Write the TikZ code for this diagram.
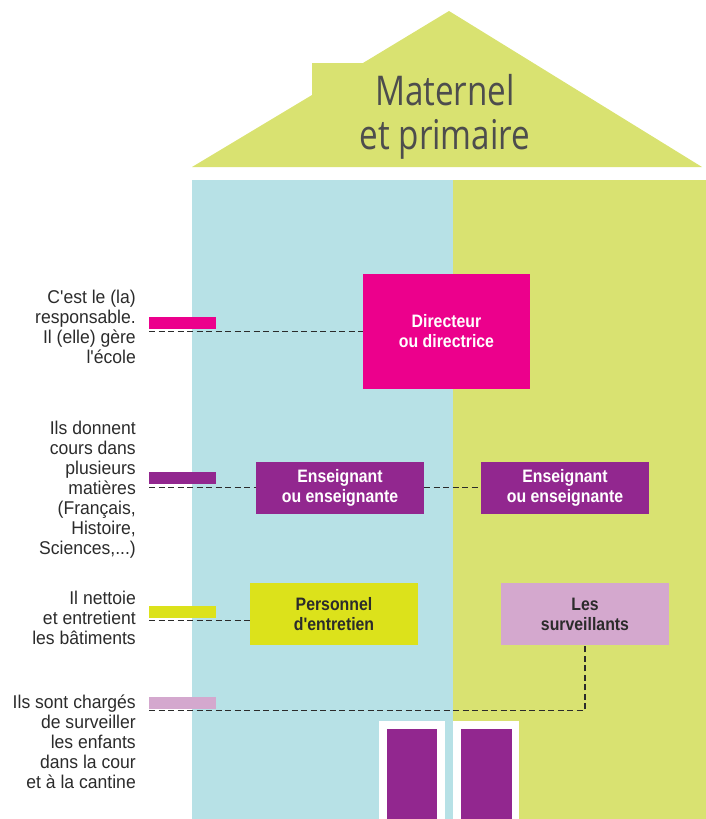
\documentclass[tikz,border=0pt]{standalone}
\usepackage{fontspec}
\setmainfont{Liberation Sans}
\newfontfamily\condfont[FakeStretch=0.95]{Liberation Sans}
\newfontfamily\boxfont[FakeStretch=0.88]{Liberation Sans}
\newfontfamily\titlefont[FakeStretch=0.81]{Open Sans}
\definecolor{wallblue}{HTML}{B7E1E6}
\definecolor{wallgreen}{HTML}{D9E271}
\definecolor{cpink}{HTML}{EC008C}
\definecolor{cpurple}{HTML}{92278F}
\definecolor{cyellow}{HTML}{DCE21B}
\definecolor{clav}{HTML}{D4A8CE}
\definecolor{ctext}{HTML}{2B2B2B}
\definecolor{ctitle}{HTML}{4D4D4D}
\begin{document}
\begin{tikzpicture}[x=1pt,y=-1pt,
  lbl/.style={anchor=east,align=right,inner sep=0pt,text=ctext,
    font=\condfont\fontsize{18.5}{20}\selectfont},
  rolebox/.style={draw=none,inner sep=0pt,align=center,
    font=\boxfont\bfseries\fontsize{18}{20}\selectfont},
  bar/.style={draw=none,inner sep=0pt,minimum width=67pt,minimum height=12pt,anchor=north west},
  conn/.style={draw=ctext,line width=1.6pt,dash pattern=on 6pt off 3.5pt}]
\useasboundingbox (0,0) rectangle (706,819);
% roof
\fill[wallgreen] (192,167) -- (312,95) -- (312,63) -- (363,63) -- (449,11) -- (702,167) -- cycle;
\node[text=ctitle,align=center,inner sep=0pt,font=\titlefont\fontsize{41}{44}\selectfont] (title) at (445,117) {Maternel\\et primaire};
% walls
\fill[wallblue] (192,180) rectangle (453,819);
\fill[wallgreen] (453,180) rectangle (706,819);
% doors
\fill[white] (379,721) rectangle (445,819);
\fill[cpurple] (387,729) rectangle (437,819);
\fill[white] (453,721) rectangle (519,819);
\fill[cpurple] (461,729) rectangle (512,819);
% role boxes
\node[rolebox,fill=cpink,text=white,minimum width=167pt,minimum height=115pt] (dir) at (446.5,331.5) {Directeur\\ou directrice};
\node[rolebox,fill=cpurple,text=white,minimum width=168pt,minimum height=52pt] (ens1) at (340,488) {Enseignant\\ou enseignante};
\node[rolebox,fill=cpurple,text=white,minimum width=168pt,minimum height=52pt] (ens2) at (565,488) {Enseignant\\ou enseignante};
\node[rolebox,fill=cyellow,text=ctext,minimum width=168pt,minimum height=62pt] (pers) at (334,614) {Personnel\\d'entretien};
\node[rolebox,fill=clav,text=ctext,minimum width=168pt,minimum height=62pt] (surv) at (585,614) {Les\\surveillants};
% legend bars
\node[bar,fill=cpink] (b1) at (149,317) {};
\node[bar,fill=cpurple] (b2) at (149,472) {};
\node[bar,fill=cyellow] (b3) at (149,606) {};
\node[bar,fill=clav] (b4) at (149,697) {};
% labels
\node[lbl] (l1) at (136,327) {C'est le (la)\\responsable.\\Il (elle) gère\\l'école};
\node[lbl] (l2) at (136,490) {Ils donnent\\cours dans\\plusieurs\\matières\\(Français,\\Histoire,\\Sciences,...)};
\node[lbl] (l3) at (136,618) {Il nettoie\\et entretient\\les bâtiments};
\node[lbl] (l4) at (136,742) {Ils sont chargés\\de surveiller\\les enfants\\dans la cour\\et à la cantine};
% connectors
\draw[conn] ([yshift=-2pt]b1.south west) -- ([yshift=-2pt]b1.south west -| dir.west);
\draw[conn] ([yshift=-3pt]b2.south west) -- ([yshift=-3pt]b2.south west -| ens1.west);
\draw[conn] ([yshift=-3pt]b2.south west -| ens1.east) -- ([yshift=-3pt]b2.south west -| ens2.west);
\draw[conn] ([yshift=-2pt]b3.south west) -- ([yshift=-2pt]b3.south west -| pers.west);
\draw[conn] ([yshift=-1pt]b4.south west) -| (surv.south);
\end{tikzpicture}
\end{document}
